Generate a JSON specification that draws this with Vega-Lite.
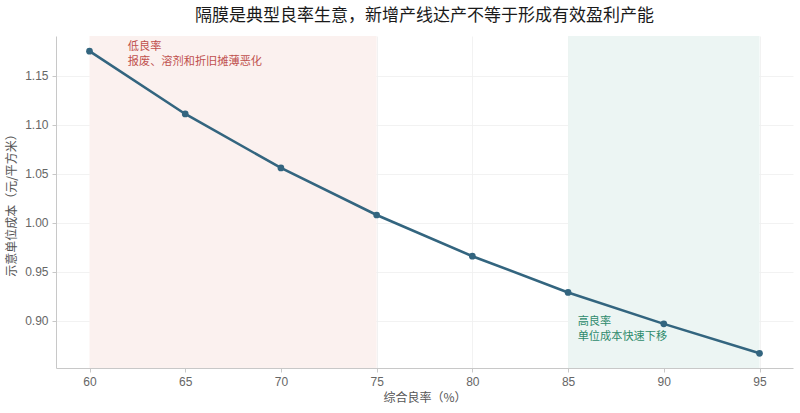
{
  "$schema": "https://vega.github.io/schema/vega-lite/v6.json",
  "width": 737,
  "height": 332,
  "autosize": "none",
  "padding": {"left": 56, "top": 36, "right": 7, "bottom": 45},
  "background": "white",
  "title": {
    "text": "隔膜是典型良率生意，新增产线达产不等于形成有效盈利产能",
    "font": "Noto Sans CJK SC",
    "fontSize": 17,
    "fontWeight": "normal",
    "color": "#1a1a1a",
    "anchor": "middle",
    "offset": 11
  },
  "config": {
    "view": {"stroke": null},
    "font": "Noto Sans CJK SC",
    "axis": {
      "labelFont": "Liberation Sans",
      "titleFont": "Noto Sans CJK SC",
      "labelColor": "#666666",
      "titleColor": "#555555",
      "labelFontSize": 12,
      "titleFontSize": 12,
      "titleFontWeight": "normal",
      "domainColor": "#c8c8c8",
      "tickColor": "#c8c8c8",
      "gridColor": "#efefef",
      "gridWidth": 0.8
    }
  },
  "datasets": {
    "spans": [
      {"zone": "low", "start": 60, "end": 75},
      {"zone": "high", "start": 85, "end": 95}
    ],
    "curve": [
      {"yield": 60, "cost": 1.175},
      {"yield": 65, "cost": 1.111},
      {"yield": 70, "cost": 1.056},
      {"yield": 75, "cost": 1.008},
      {"yield": 80, "cost": 0.966},
      {"yield": 85, "cost": 0.929},
      {"yield": 90, "cost": 0.897},
      {"yield": 95, "cost": 0.867}
    ],
    "notes": [
      {"zone": "low", "x": 62, "y": 1.1856, "label": "低良率"},
      {"zone": "low", "x": 62, "y": 1.1698, "label": "报废、溶剂和折旧摊薄恶化"},
      {"zone": "high", "x": 85.5, "y": 0.9051, "label": "高良率"},
      {"zone": "high", "x": 85.5, "y": 0.8893, "label": "单位成本快速下移"}
    ]
  },
  "layer": [
    {
      "data": {"name": "spans"},
      "mark": {"type": "rect", "opacity": 1},
      "encoding": {
        "x": {"field": "start", "type": "quantitative", "scale": {"domain": [58.25, 96.75], "nice": false, "zero": false}},
        "x2": {"field": "end"},
        "y": {"datum": 0.852, "type": "quantitative"},
        "y2": {"datum": 1.1905},
        "fill": {
          "field": "zone",
          "type": "nominal",
          "scale": {"domain": ["low", "high"], "range": ["#fbf1ef", "#ecf5f3"]},
          "legend": null
        }
      }
    },
    {
      "data": {"name": "curve"},
      "mark": {"type": "line", "color": "#33657f", "strokeWidth": 2.6},
      "encoding": {
        "x": {
          "field": "yield",
          "type": "quantitative",
          "title": "综合良率（%）",
          "scale": {"domain": [58.25, 96.75], "nice": false, "zero": false},
          "axis": {"values": [60, 65, 70, 75, 80, 85, 90, 95], "grid": true, "titlePadding": 5, "tickSize": 4, "labelPadding": 4}
        },
        "y": {
          "field": "cost",
          "type": "quantitative",
          "title": "示意单位成本（元/平方米）",
          "scale": {"domain": [0.852, 1.1905], "nice": false, "zero": false},
          "axis": {"values": [0.9, 0.95, 1.0, 1.05, 1.1, 1.15], "format": ".2f", "grid": true, "titlePadding": 6, "tickSize": 4, "labelPadding": 4}
        }
      }
    },
    {
      "data": {"name": "curve"},
      "mark": {"type": "point", "filled": true, "color": "#33657f", "size": 45, "opacity": 1},
      "encoding": {
        "x": {"field": "yield", "type": "quantitative"},
        "y": {"field": "cost", "type": "quantitative"}
      }
    },
    {
      "data": {"name": "notes"},
      "mark": {"type": "text", "align": "left", "baseline": "top", "fontSize": 11.2, "letterSpacing": 0.4, "font": "Noto Sans CJK SC"},
      "encoding": {
        "x": {"field": "x", "type": "quantitative"},
        "y": {"field": "y", "type": "quantitative"},
        "text": {"field": "label"},
        "color": {
          "field": "zone",
          "type": "nominal",
          "scale": {"domain": ["low", "high"], "range": ["#c0504d", "#2e8b6c"]},
          "legend": null
        }
      }
    }
  ]
}
